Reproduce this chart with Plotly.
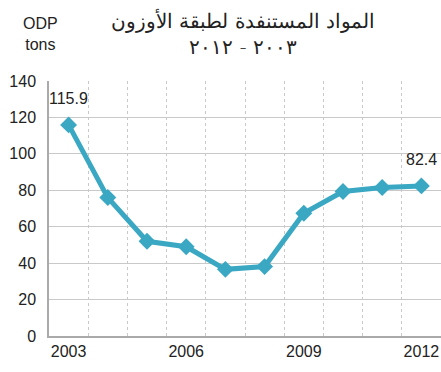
import plotly.graph_objects as go

# Ozone-depleting substances consumption, ODP tons
years = [2003, 2004, 2005, 2006, 2007, 2008, 2009, 2010, 2011, 2012]
odp_tons = [115.9, 76.0, 52.0, 49.0, 36.6, 38.1, 67.4, 79.3, 81.5, 82.4]
labelled_years = [2003, 2012]
x_tick_years = [2003, 2006, 2009, 2012]
y_ticks = [0, 20, 40, 60, 80, 100, 120, 140]

title_ar = "المواد المستنفدة لطبقة الأوزون<br>٢٠٠٣ - ٢٠١٢"
unit_label = "ODP<br>tons"

line_color = "#3aa8c3"
grid_color = "#c9c9c9"
text_color = "#222222"
font_family = "Liberation Sans, Arial, sans-serif"

W, H = 441, 372
M_L, M_R, M_T, M_B = 49, 0, 81, 36
plot_w = W - M_L - M_R
plot_h = H - M_T - M_B


def paper_x(px):
    return (px - M_L) / plot_w


def paper_y(py):
    return (H - M_B - py) / plot_h


fig = go.Figure()
fig.add_trace(go.Scatter(
    x=years,
    y=odp_tons,
    mode="lines+markers",
    line=dict(color=line_color, width=5),
    marker=dict(symbol="diamond", size=13, color=line_color),
    showlegend=False,
    hoverinfo="x+y",
))

# value labels on the first and last points
for yr, val in zip(years, odp_tons):
    if yr in labelled_years:
        fig.add_annotation(
            x=yr, y=val, text=f"{val}", showarrow=False,
            yshift=26, font=dict(size=16, color=text_color, family=font_family),
        )

# two-line Arabic title
fig.add_annotation(
    x=paper_x(243), y=paper_y(33), xref="paper", yref="paper",
    text=title_ar, showarrow=False,
    xanchor="center", yanchor="middle", align="center",
    font=dict(size=20, color=text_color, family="DejaVu Sans, sans-serif", weight=300),
)

# unit label in the top-left corner
fig.add_annotation(
    x=paper_x(40), y=paper_y(34), xref="paper", yref="paper",
    text=unit_label, showarrow=False,
    xanchor="center", yanchor="middle", align="center",
    font=dict(size=16, color=text_color, family=font_family),
)

fig.update_layout(
    width=W,
    height=H,
    margin=dict(l=M_L, r=M_R, t=M_T, b=M_B),
    paper_bgcolor="white",
    plot_bgcolor="white",
    font=dict(family=font_family, size=16, color=text_color),
    xaxis=dict(
        range=[2002.5, 2012.5],
        tickvals=x_tick_years,
        ticktext=[str(y) for y in x_tick_years],
        showgrid=False,
        showline=True,
        linecolor="#aaaaaa",
        linewidth=1.5,
        ticks="",
        tickfont=dict(size=16, color=text_color),
        zeroline=False,
        minor=dict(
            tickvals=[y + 0.5 for y in years[:-1]],
            showgrid=True,
            gridcolor=grid_color,
            griddash="dot",
            gridwidth=1,
            ticks="",
        ),
        fixedrange=True,
    ),
    yaxis=dict(
        range=[0, 140],
        tickvals=y_ticks,
        showgrid=True,
        gridcolor=grid_color,
        gridwidth=1.2,
        showline=True,
        linecolor="#aaaaaa",
        linewidth=1.5,
        zeroline=False,
        ticks="",
        ticklabelstandoff=8,
        tickfont=dict(size=16, color=text_color),
        fixedrange=True,
    ),
)

fig.write_html("out.html")
